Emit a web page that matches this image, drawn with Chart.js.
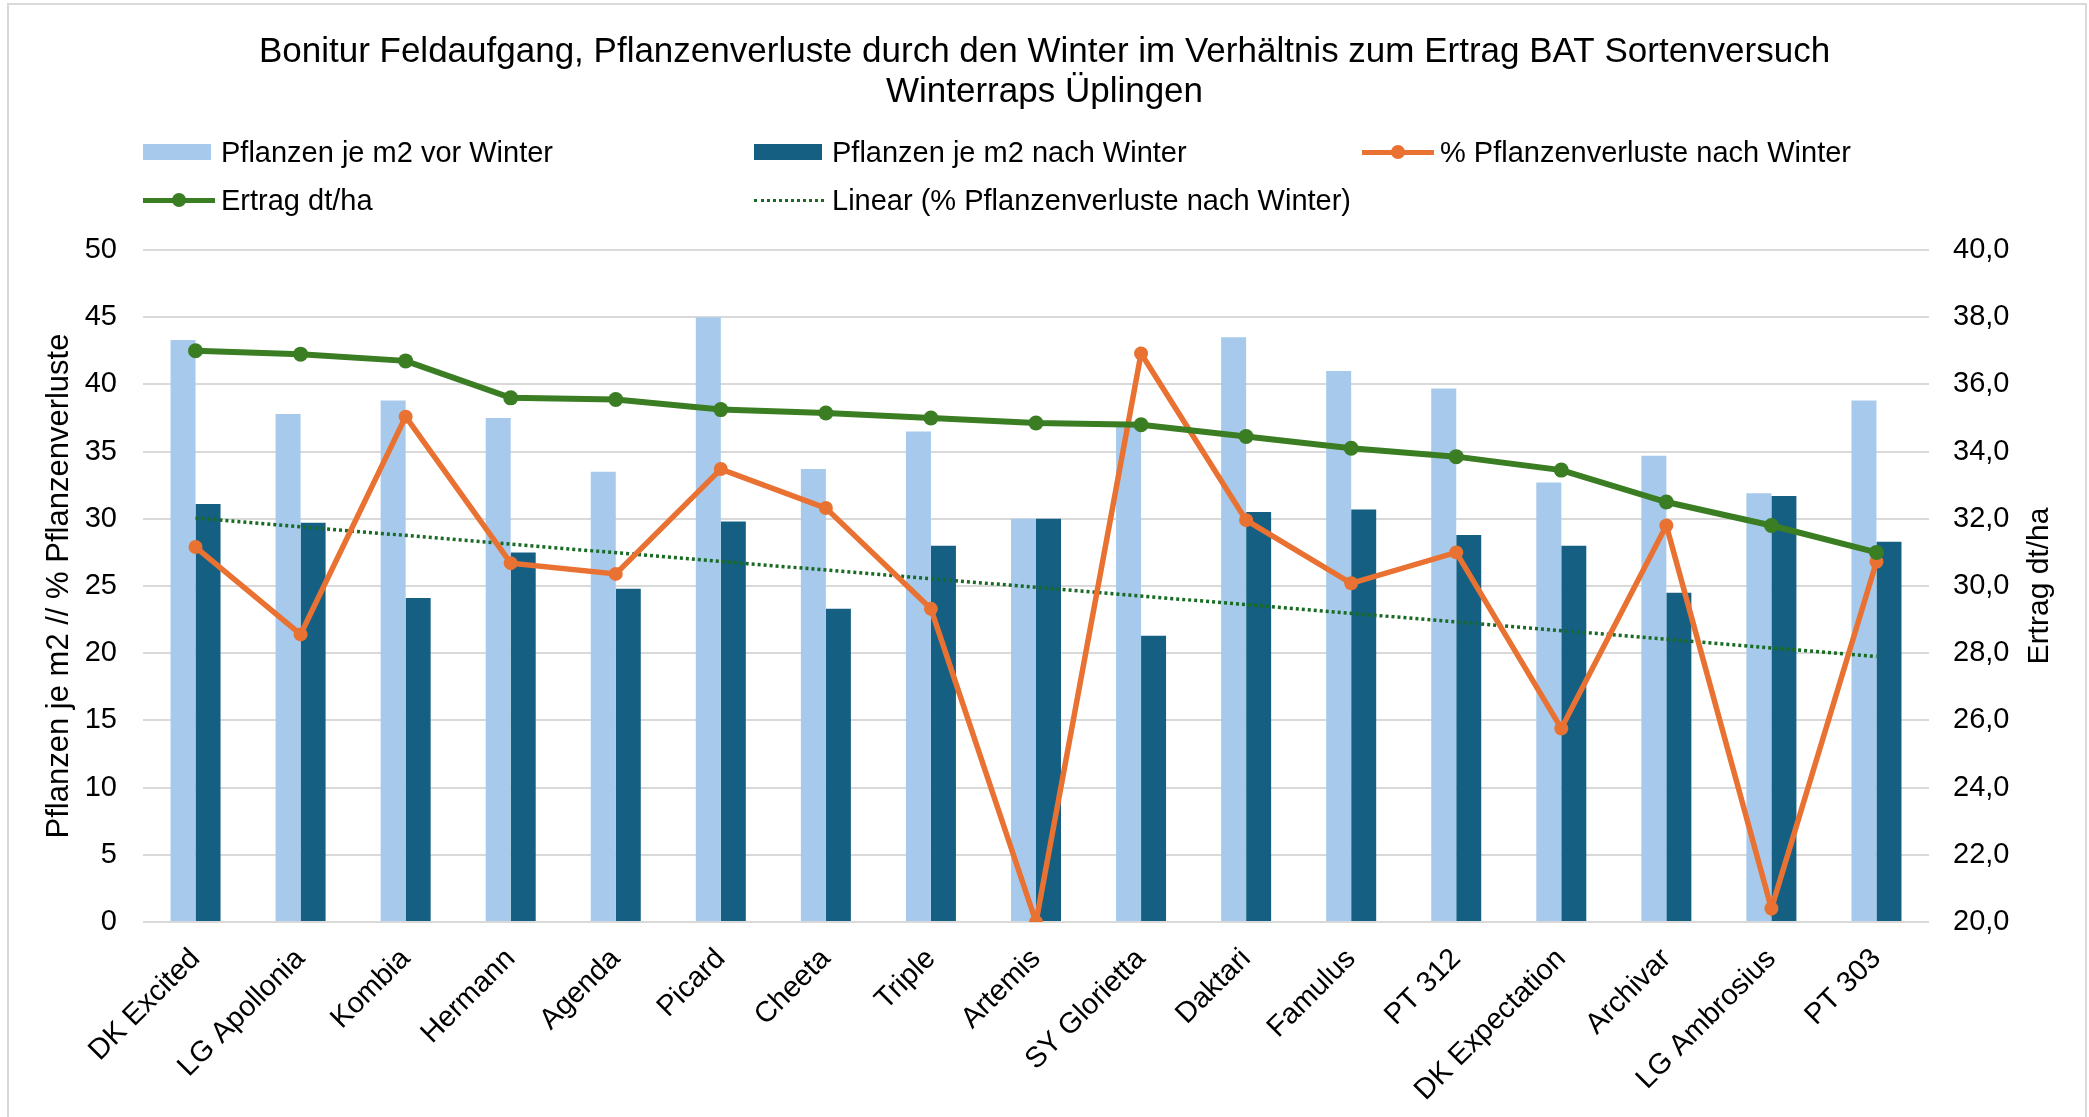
<!DOCTYPE html>
<html>
<head>
<meta charset="utf-8">
<script src="https://cdn.jsdelivr.net/npm/chart.js@4.4.1/dist/chart.umd.min.js"></script>
<style>
  body { margin: 0; background: #fff; }
  #wrap { position: relative; width: 2089px; height: 1117px; }
  .legend-item {
    position: absolute; display: flex; align-items: center; height: 40px;
    font: 29px "Liberation Sans", Arial, sans-serif; color: #000; white-space: nowrap;
  }
  .legend-icon { position: relative; width: 70px; height: 16px; margin-right: 8px; }
  .legend-box { position: absolute; left: 0; top: 0; width: 68px; height: 16px; }
  .legend-line { position: absolute; left: 0; top: 6px; width: 72px; height: 5px; }
  .legend-dot { position: absolute; left: 29px; top: 1px; width: 14px; height: 14px; border-radius: 50%; }
  .legend-dotted { position: absolute; left: 0; top: 7px; width: 70px; border-top: 3px dotted; }
</style>
</head>
<body>
<div id="wrap">
  <canvas id="sortenChart" width="2089" height="1117"></canvas>
  <div id="legend"></div>
</div>
<script>
const sorten = ['DK Excited', 'LG Apollonia', 'Kombia', 'Hermann', 'Agenda', 'Picard', 'Cheeta', 'Triple', 'Artemis',
  'SY Glorietta', 'Daktari', 'Famulus', 'PT 312', 'DK Expectation', 'Archivar', 'LG Ambrosius', 'PT 303']
const vorWinter = [43.3, 37.8, 38.8, 37.5, 33.5, 45.0, 33.7, 36.5, 30.0, 36.9, 43.5, 41.0, 39.7, 32.7, 34.7, 31.9, 38.8]
const nachWinter = [31.1, 29.7, 24.1, 27.5, 24.8, 29.8, 23.3, 28.0, 30.0, 21.3, 30.5, 30.7, 28.8, 28.0, 24.5, 31.7, 28.3]
const verluste = [27.9, 21.4, 37.6, 26.7, 25.9, 33.7, 30.8, 23.3, 0, 42.3, 29.9, 25.2, 27.5, 14.4, 29.5, 1.0, 26.8]
const ertrag = [37.0, 36.9, 36.7, 35.6, 35.55, 35.25, 35.15, 35.0, 34.85, 34.8, 34.45, 34.1, 33.85, 33.45, 32.5, 31.8, 31.0]
// trendline: only its two ends, the line spans the gap
const trendVerluste = [30.05, null, null, null, null, null, null, null, null, null, null, null, null, null, null, null, 19.75]
const leftTicks = { min: 0, max: 50, step: 5 }
const rightTicks = { min: 20, max: 40, step: 2 }

const FONT = '"Liberation Sans", Arial, sans-serif'
Chart.defaults.font.family = FONT
Chart.defaults.font.size = 29
Chart.defaults.color = '#000'

const frame = {
  id: 'frame',
  beforeDraw(chart) {
    const ctx = chart.ctx
    ctx.save()
    ctx.fillStyle = '#fff'
    ctx.fillRect(0, 0, chart.width, chart.height)
    ctx.strokeStyle = '#d9d9d9'
    ctx.lineWidth = 2
    ctx.strokeRect(8, 4, 2078, 1200)
    ctx.restore()
  },
  afterDraw(chart) {
    // right axis title reads bottom-to-top like the left one
    const { ctx, chartArea } = chart
    ctx.save()
    ctx.translate(2040, (chartArea.top + chartArea.bottom) / 2)
    ctx.rotate(-Math.PI / 2)
    ctx.font = '30px ' + FONT
    ctx.fillStyle = '#000'
    ctx.textAlign = 'center'
    ctx.textBaseline = 'middle'
    ctx.fillText('Ertrag dt/ha', 0, 0)
    ctx.restore()
  }
}

const datasets = [
  {
    type: 'bar', label: 'Pflanzen je m2 vor Winter', data: vorWinter,
    backgroundColor: '#a7caec', yAxisID: 'y', order: 4,
    categoryPercentage: 0.476, barPercentage: 1.0
  },
  {
    type: 'bar', label: 'Pflanzen je m2 nach Winter', data: nachWinter,
    backgroundColor: '#156082', yAxisID: 'y', order: 4,
    categoryPercentage: 0.476, barPercentage: 1.0
  },
  {
    type: 'line', label: '% Pflanzenverluste nach Winter', data: verluste,
    borderColor: '#e97132', backgroundColor: '#e97132', borderWidth: 5.5,
    pointRadius: 7, pointBorderWidth: 0, pointBackgroundColor: '#e97132',
    yAxisID: 'y', order: 2
  },
  {
    type: 'line', label: 'Ertrag dt/ha', data: ertrag,
    borderColor: '#3b7d23', backgroundColor: '#3b7d23', borderWidth: 6,
    pointRadius: 7.5, pointBorderWidth: 0, pointBackgroundColor: '#3b7d23',
    yAxisID: 'y1', order: 1
  },
  {
    type: 'line', label: 'Linear (% Pflanzenverluste nach Winter)', data: trendVerluste,
    borderColor: '#196b24', borderWidth: 3.5, borderDash: [3, 3], pointRadius: 0,
    spanGaps: true, yAxisID: 'y', order: 3
  }
]

const ctx = document.getElementById('sortenChart').getContext('2d')
const chart = new Chart(ctx, {
  data: { labels: sorten, datasets: datasets },
  options: {
    responsive: false,
    animation: false,
    devicePixelRatio: 1,
    layout: { padding: 0 },
    plugins: {
      legend: { display: false },
      tooltip: { enabled: false },
      title: {
        display: true,
        text: ['Bonitur Feldaufgang, Pflanzenverluste durch den Winter im Verhältnis zum Ertrag BAT Sortenversuch',
          'Winterraps Üplingen'],
        color: '#000',
        font: { size: 35, weight: 'normal', lineHeight: 40 / 35 },
        padding: { top: 32, bottom: 138 }
      }
    },
    scales: {
      x: {
        grid: { display: false },
        border: { display: false },
        ticks: { autoSkip: false, minRotation: 45, maxRotation: 45, padding: 12, font: { size: 29 } },
        afterFit: scale => { scale.height = 195 }
      },
      y: {
        position: 'left',
        min: leftTicks.min, max: leftTicks.max,
        grid: { color: '#d9d9d9', lineWidth: 2, drawTicks: false },
        border: { display: false },
        ticks: { stepSize: leftTicks.step, padding: 26 },
        title: {
          display: true, text: 'Pflanzen je m2 // % Pflanzenverluste',
          font: { size: 31 }, padding: { top: 41, bottom: 0 }
        },
        afterFit: scale => { scale.width = 143 }
      },
      y1: {
        position: 'right',
        min: rightTicks.min, max: rightTicks.max,
        grid: { display: false, drawTicks: false },
        border: { display: false },
        ticks: { stepSize: rightTicks.step, padding: 24, callback: v => v.toFixed(1).replace('.', ',') },
        afterFit: scale => { scale.width = 160 }
      }
    }
  },
  plugins: [frame]
})

// legend in three fixed columns, like the original
const legendPos = [[143, 152], [754, 152], [1362, 152], [143, 200], [754, 200]]
const legendEl = document.getElementById('legend')
chart.data.datasets.forEach((ds, i) => {
  const item = document.createElement('div')
  item.className = 'legend-item'
  item.style.left = legendPos[i][0] + 'px'
  item.style.top = (legendPos[i][1] - 20) + 'px'
  const icon = document.createElement('div')
  icon.className = 'legend-icon'
  if (ds.type === 'bar') {
    icon.innerHTML = '<div class="legend-box" style="background:' + ds.backgroundColor + '"></div>'
  } else if (ds.borderDash) {
    icon.innerHTML = '<div class="legend-dotted" style="border-color:' + ds.borderColor + '"></div>'
  } else {
    icon.innerHTML = '<div class="legend-line" style="background:' + ds.borderColor + '"></div>' +
      '<div class="legend-dot" style="background:' + ds.borderColor + '"></div>'
  }
  const text = document.createElement('span')
  text.textContent = ds.label
  item.appendChild(icon)
  item.appendChild(text)
  legendEl.appendChild(item)
})
</script>
</body>
</html>
